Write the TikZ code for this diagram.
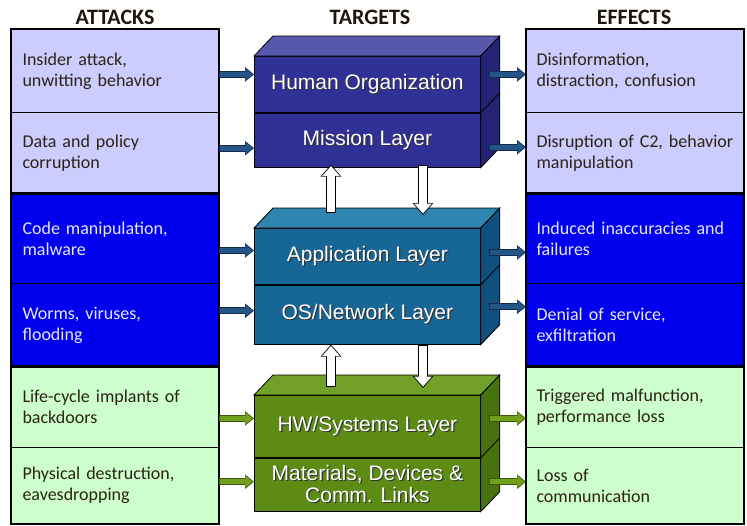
\documentclass[tikz,border=0pt]{standalone}
\usepackage{fontspec}
\setmainfont{Carlito}
\newfontfamily\layerfont{Liberation Sans}
\usetikzlibrary{arrows.meta,calc,positioning}
\definecolor{lavender}{RGB}{204,204,255}
\definecolor{deepblue}{RGB}{0,0,238}
\definecolor{palegreen}{RGB}{204,255,204}
\definecolor{rowtext}{RGB}{45,35,20}
\definecolor{bluetext}{RGB}{230,230,255}
\definecolor{headtext}{RGB}{30,22,12}
\definecolor{humanfront}{RGB}{48,48,150}
\definecolor{humantop}{RGB}{88,88,172}
\definecolor{humanside}{RGB}{36,36,118}
\definecolor{appfront}{RGB}{22,102,150}
\definecolor{apptop}{RGB}{48,132,176}
\definecolor{appside}{RGB}{15,80,124}
\definecolor{hwfront}{RGB}{92,140,20}
\definecolor{hwtop}{RGB}{112,160,40}
\definecolor{hwside}{RGB}{72,114,14}
\definecolor{bluearrow}{RGB}{35,85,135}
\definecolor{bluearrowedge}{RGB}{18,42,78}
\definecolor{greenarrow}{RGB}{112,160,28}
\definecolor{greenarrowedge}{RGB}{55,88,10}
\tikzset{
    % column rows
    rowbox/.style={
        rectangle, draw=black, line width=1pt, anchor=north west,
        inner ysep=0pt, align=left,
        font=\fontsize{18}{21}\selectfont, text=rowtext
    },
    attackbox/.style={rowbox, inner xsep=11pt, minimum width=207pt, text width=185pt},
    effectbox/.style={rowbox, inner xsep=10pt, minimum width=217pt, text width=197pt},
    group/.style={draw=black, line width=2.5pt},
    % target layers
    layerbox/.style={
        rectangle, draw=black, line width=0.8pt, anchor=north west,
        minimum width=226pt, inner sep=0pt, align=center, text=white,
        font=\layerfont\fontsize{21}{22}\selectfont
    },
    face/.style={draw=black, line width=0.8pt},
    header/.style={font=\bfseries\fontsize{22}{22}\selectfont, text=headtext}
}
% white text with a dark drop shadow
\newcommand\shtext[1]{\makebox[0pt][l]{\kern1.2pt\raisebox{-1.2pt}{\textcolor{black!80}{#1}}}#1}
% block arrow: fill, edge, from, to
\newcommand\blockarrow[4]{%
    \draw[line width=7pt, #2, -{Triangle[length=9pt,width=14pt]}] #3 -- #4;
    \draw[line width=5pt, #1, -{Triangle[length=7.5pt,width=11.5pt]}, shorten >=1.2pt, shorten <=1pt] #3 -- #4;
}
% white block arrow between layers
\newcommand\linkarrow[2]{%
    \draw[line width=10pt, black, -{Triangle[length=12pt,width=20pt]}] #1 -- #2;
    \draw[line width=8pt, white, -{Triangle[length=10pt,width=17pt]}, shorten >=1.4pt, shorten <=1pt] #1 -- #2;
}

\begin{document}
\begin{tikzpicture}[x=1pt, y=-1pt]
\useasboundingbox (0,0) rectangle (747,525);

% Column headers
\node[header] (hattacks) at (115,17) {ATTACKS};
\node[header] (htargets) at (370,17) {TARGETS};
\node[header] (heffects) at (634,17) {EFFECTS};

% Attacks column
\node[attackbox, fill=lavender, minimum height=83pt] (a1) at (11,29) {Insider attack,\\unwitting behavior};
\node[attackbox, fill=lavender, minimum height=81pt] (a2) at (11,112) {Data and policy\\corruption};
\node[attackbox, fill=deepblue, text=bluetext, minimum height=90pt] (a3) at (11,193) {Code manipulation,\\malware};
\node[attackbox, fill=deepblue, text=bluetext, minimum height=83pt] (a4) at (11,283) {Worms, viruses,\\flooding};
\node[attackbox, fill=palegreen, minimum height=81pt] (a5) at (11,366) {Life-cycle implants of\\backdoors};
\node[attackbox, fill=palegreen, minimum height=76pt] (a6) at (11,447) {Physical destruction,\\eavesdropping};
\draw[group] (a1.north west) rectangle (a2.south east);
\draw[group] (a3.north west) rectangle (a4.south east);
\draw[group] (a5.north west) rectangle (a6.south east);

% Effects column
\node[effectbox, fill=lavender, minimum height=83pt] (e1) at (526,29) {Disinformation,\\distraction, confusion};
\node[effectbox, fill=lavender, minimum height=81pt] (e2) at (526,112) {Disruption of C2, behavior\\manipulation};
\node[effectbox, fill=deepblue, text=bluetext, minimum height=90pt] (e3) at (526,193) {Induced inaccuracies and\\failures};
\node[effectbox, fill=deepblue, text=bluetext, minimum height=83pt] (e4) at (526,283) {Denial of service,\\exfiltration};
\node[effectbox, fill=palegreen, minimum height=81pt] (e5) at (526,366) {Triggered malfunction,\\performance loss};
\node[effectbox, fill=palegreen, minimum height=76pt] (e6) at (526,447) {Loss of\\communication};
\draw[group] (e1.north west) rectangle (e2.south east);
\draw[group] (e3.north west) rectangle (e4.south east);
\draw[group] (e5.north west) rectangle (e6.south east);

% Top block: human / mission
\node[layerbox, fill=humanfront, minimum height=56pt] (human) at (254,56) {\shtext{Human Organization}};
\node[layerbox, fill=humanfront, minimum height=54pt] (mission) at (human.south west) {\shtext{Mission Layer}};
\filldraw[face, fill=humantop] (human.north west) -- ++(19,-20) -- ($(human.north east)+(19,-20)$) -- (human.north east) -- cycle;
\filldraw[face, fill=humanside] (human.north east) -- ++(19,-20) -- ($(mission.south east)+(19,-20)$) -- (mission.south east) -- cycle;
\draw[face] (human.south east) -- ++(19,-20);

% Middle block: application / OS
\node[layerbox, fill=appfront, minimum height=56pt] (app) at (254,228) {\shtext{Application Layer}};
\node[layerbox, fill=appfront, minimum height=59pt] (os) at (app.south west) {\shtext{OS/Network Layer}};
\filldraw[face, fill=apptop] (app.north west) -- ++(19,-20) -- ($(app.north east)+(19,-20)$) -- (app.north east) -- cycle;
\filldraw[face, fill=appside] (app.north east) -- ++(19,-20) -- ($(os.south east)+(19,-20)$) -- (os.south east) -- cycle;
\draw[face] (app.south east) -- ++(19,-20);

% Bottom block: hardware / materials
\node[layerbox, fill=hwfront, minimum height=62pt] (hw) at (254,395) {\shtext{HW/Systems Layer}};
\node[layerbox, fill=hwfront, minimum height=53pt] (mat) at (hw.south west) {\shtext{Materials, Devices \&}\\\shtext{Comm. Links}};
\filldraw[face, fill=hwtop] (hw.north west) -- ++(19,-20) -- ($(hw.north east)+(19,-20)$) -- (hw.north east) -- cycle;
\filldraw[face, fill=hwside] (hw.north east) -- ++(19,-20) -- ($(mat.south east)+(19,-20)$) -- (mat.south east) -- cycle;
\draw[face] (hw.south east) -- ++(19,-20);

% Links between blocks
\linkarrow{($(app.north west)+(77,-15)$)}{($(mission.south west)+(77,-3)$)}
\linkarrow{($(mission.south west)+(169,-3)$)}{($(app.north west)+(169,-13)$)}
\linkarrow{($(hw.north west)+(77,-8)$)}{($(os.south west)+(77,0)$)}
\linkarrow{($(os.south west)+(169,0)$)}{($(hw.north west)+(169,-7)$)}

% Attacks into targets
\blockarrow{bluearrow}{bluearrowedge}{($(a1.east |- human.west)+(0,-10)$)}{($(human.west)+(0,-10)$)}
\blockarrow{bluearrow}{bluearrowedge}{($(a2.east |- mission.west)+(0,8)$)}{($(mission.west)+(0,8)$)}
\blockarrow{bluearrow}{bluearrowedge}{($(a3.east |- app.west)+(0,-6)$)}{($(app.west)+(0,-6)$)}
\blockarrow{bluearrow}{bluearrowedge}{($(a4.east |- os.west)+(0,-4)$)}{($(os.west)+(0,-4)$)}
\blockarrow{greenarrow}{greenarrowedge}{($(a5.east |- hw.west)+(0,-8)$)}{($(hw.west)+(0,-8)$)}
\blockarrow{greenarrow}{greenarrowedge}{($(a6.east |- mat.west)+(0,-3)$)}{($(mat.west)+(0,-3)$)}

% Targets into effects
\blockarrow{bluearrow}{bluearrowedge}{($(human.east)+(8,-10)$)}{($(e1.west |- human.east)+(0,-10)$)}
\blockarrow{bluearrow}{bluearrowedge}{($(mission.east)+(8,7)$)}{($(e2.west |- mission.east)+(0,7)$)}
\blockarrow{bluearrow}{bluearrowedge}{($(app.east)+(8,-4)$)}{($(e3.west |- app.east)+(0,-4)$)}
\blockarrow{bluearrow}{bluearrowedge}{($(os.east)+(8,-8)$)}{($(e4.west |- os.east)+(0,-8)$)}
\blockarrow{greenarrow}{greenarrowedge}{($(hw.east)+(8,-8)$)}{($(e5.west |- hw.east)+(0,-8)$)}
\blockarrow{greenarrow}{greenarrowedge}{($(mat.east)+(8,-3)$)}{($(e6.west |- mat.east)+(0,-3)$)}

\end{tikzpicture}
\end{document}
